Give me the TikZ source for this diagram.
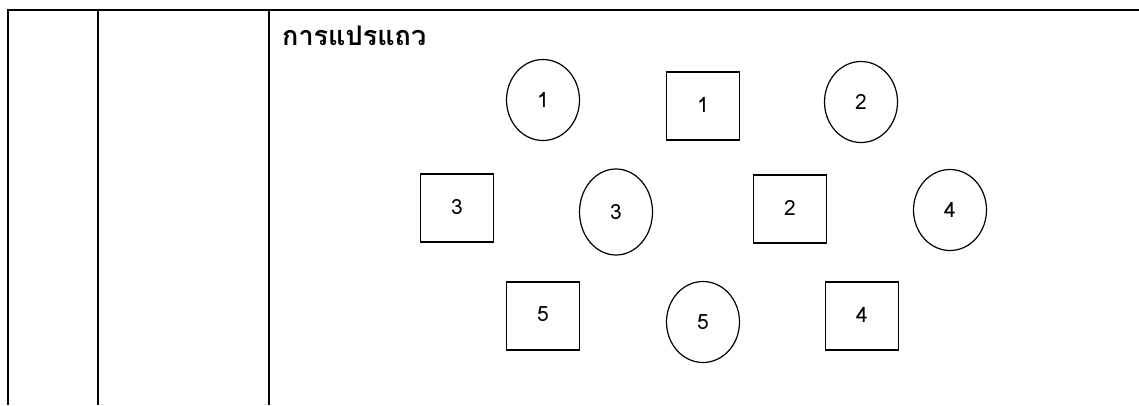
\documentclass[tikz,border=0pt]{standalone}
\usepackage{fontspec}
\setmainfont{Loma}[Script=Thai]
\newfontfamily\thaifont[Script=Thai]{Loma}
\usetikzlibrary{shapes.geometric}

\begin{document}
\begin{tikzpicture}[x=1pt, y=-1pt,
    rule/.style={line width=2pt},
    spot/.style={draw, ellipse, line width=1.2pt, minimum width=73pt, minimum height=81pt, inner sep=0pt, font=\fontsize{21}{24}\selectfont},
    box/.style={draw, rectangle, line width=1.2pt, minimum width=73pt, minimum height=68pt, inner sep=0pt, font=\fontsize{21}{24}\selectfont}
]
\useasboundingbox (0,0) rectangle (1139,405);
% table frame
\coordinate (tl) at (8,10);
\coordinate (tr) at (1139,10);
\draw[rule] (tl) -- (tr);
\draw[rule] (8,9) -- (8,405);
\draw[rule] (98,9) -- (98,405);
\draw[rule] (269,9) -- (269,405);

\node[anchor=base west, font=\thaifont\bfseries\fontsize{27}{30}\selectfont, inner sep=0pt] (title) at (282,45) {การแปรแถว};

% circles
\node[spot] (c1) at (543,100) {\raisebox{-8pt}{1}};
\node[spot] (c2) at (861,102) {\raisebox{-8pt}{2}};
\node[spot, minimum height=86pt] (c3) at (616,212) {\raisebox{-9pt}{3}};
\node[spot] (c4) at (950,210) {\raisebox{-8pt}{4}};
\node[spot] (c5) at (703,322) {\raisebox{-8pt}{5}};

% squares
\node[box] (s1) at (703,106) {\raisebox{3pt}{1}};
\node[box] (s2) at (790,209) {\raisebox{3pt}{2}};
\node[box] (s3) at (457,208) {\raisebox{3pt}{3}};
\node[box] (s4) at (862,316) {\raisebox{3pt}{4}};
\node[box] (s5) at (543,316) {\raisebox{3pt}{5}};
\end{tikzpicture}
\end{document}
